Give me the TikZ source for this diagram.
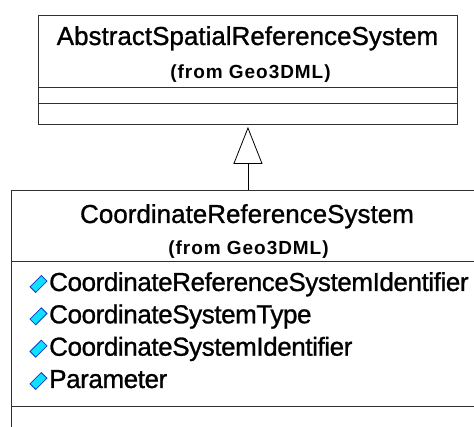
\documentclass[tikz,border=0pt]{standalone}
\usepackage{fontspec}
\setmainfont{Liberation Sans}
\usetikzlibrary{arrows.meta, positioning}
\definecolor{UMLline}{HTML}{303030}
\definecolor{UMLcyan}{HTML}{10E0FF}
\definecolor{UMLblue}{HTML}{1038C8}
\tikzset{
   classbox/.style={draw=UMLline, line width=0.9pt, fill=white, rectangle, inner sep=0pt},
   classname/.style={inner sep=0pt, anchor=base, font=\fontsize{26}{28}\selectfont\addfontfeatures{FakeBold=1}},
   fromname/.style={inner sep=0pt, anchor=base, font=\fontsize{19}{21}\selectfont\bfseries\addfontfeatures{LetterSpace=5}},
   attrname/.style={inner sep=0pt, anchor=base west, font=\fontsize{26}{28}\selectfont\addfontfeatures{LetterSpace=-1.6, FakeBold=1}},
   attricon/.style={draw=UMLblue, fill=UMLcyan, line width=0.8pt, rectangle, rotate=45,
      minimum width=16pt, minimum height=8pt, inner sep=0pt},
   inherit/.style={draw=black, line width=0.8pt, -{Triangle[open, length=37pt, width=29pt, line width=0.8pt]}}
}
\begin{document}
\begin{tikzpicture}[x=1pt, y=-1pt]
   \useasboundingbox (0,0) rectangle (474,427);
   \clip (0,0) rectangle (474,427);
   % Parent class
   \node[classbox, anchor=north west, minimum width=419pt, minimum height=109pt] (asrs) at (38,15) {};
   \draw[UMLline, line width=0.9pt] ([yshift=-72pt]asrs.north west) -- ([yshift=-72pt]asrs.north east);
   \draw[UMLline, line width=0.9pt] ([yshift=-88pt]asrs.north west) -- ([yshift=-88pt]asrs.north east);
   \node[classname] (asrsname) at (247.5,45) {AbstractSpatialReferenceSystem};
   \node[fromname] (asrsfrom) at (250.5,79) {(from Geo3DML)};
   % Child class (runs past the page)
   \node[classbox, anchor=north west, minimum width=489pt, minimum height=260pt] (crs) at (11,190) {};
   \draw[UMLline, line width=0.9pt] ([yshift=-71pt]crs.north west) -- ([yshift=-71pt]crs.north east);
   \draw[UMLline, line width=0.9pt] ([yshift=-216pt]crs.north west) -- ([yshift=-216pt]crs.north east);
   \node[classname] (crsname) at (247,223) {CoordinateReferenceSystem};
   \node[fromname] (crsfrom) at (248.5,255) {(from Geo3DML)};
   % Attributes
   \node[attricon] (icona) at (38.5,284) {};
   \node[attrname] (attra) at (49,291) {CoordinateReferenceSystemIdentifier};
   \node[attricon] (iconb) at (38.5,316.3) {};
   \node[attrname] (attrb) at (49,323.3) {CoordinateSystemType};
   \node[attricon] (iconc) at (38.5,348.7) {};
   \node[attrname] (attrc) at (49,355.7) {CoordinateSystemIdentifier};
   \node[attricon] (icond) at (38.5,381) {};
   \node[attrname] (attrd) at (49,388) {Parameter};
   % Generalization
   \draw[inherit, shorten >=2pt] (crs.north -| asrs.south) -- (asrs.south);
\end{tikzpicture}
\end{document}
